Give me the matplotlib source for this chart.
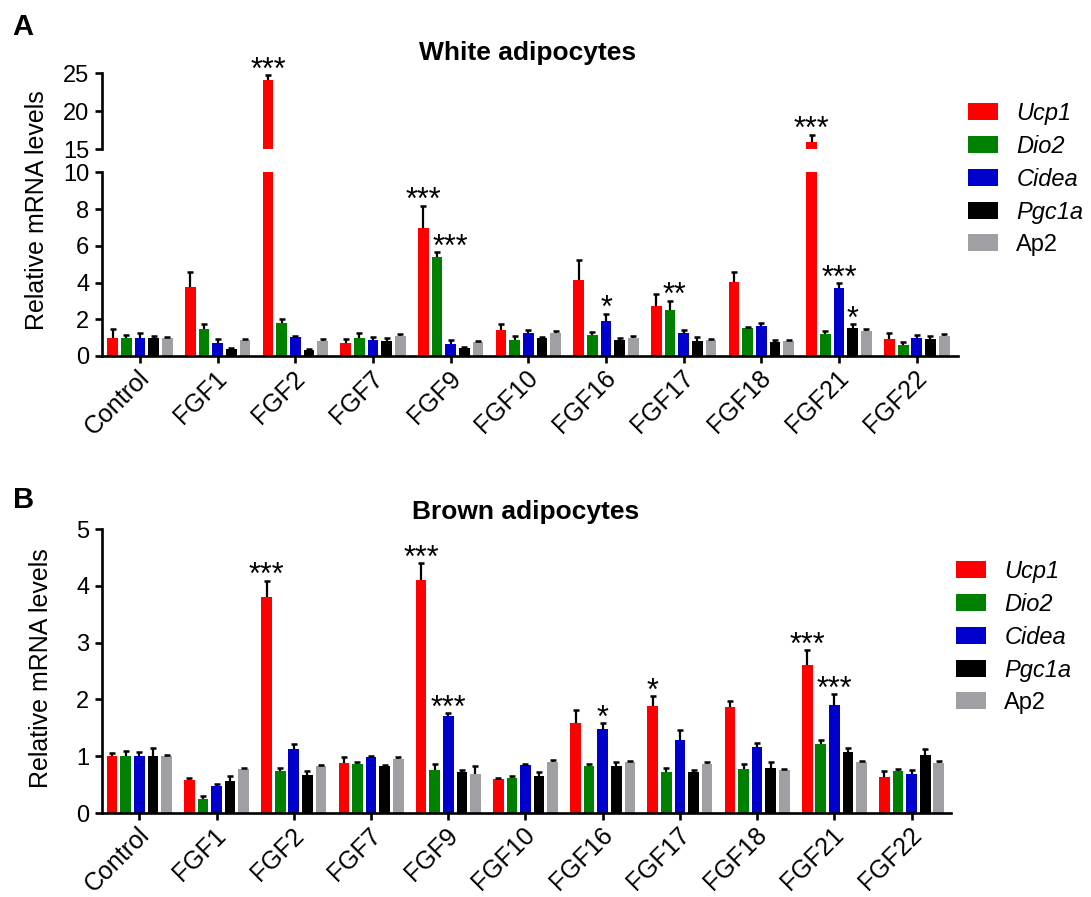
import numpy as np
import matplotlib
matplotlib.use('Agg')
import matplotlib.pyplot as plt
import matplotlib.transforms as mtransforms
from matplotlib.patches import Patch

plt.rcParams['font.family'] = ['Liberation Sans', 'DejaVu Sans']

groups = ['Control', 'FGF1', 'FGF2', 'FGF7', 'FGF9', 'FGF10',
          'FGF16', 'FGF17', 'FGF18', 'FGF21', 'FGF22']
genes = ['Ucp1', 'Dio2', 'Cidea', 'Pgc1a', 'Ap2']
colors = ['#ff0000', '#008000', '#0000cc', '#000000', '#a0a0a4']

# White adipocytes: mean and upper error (SEM)
white_ucp1 = [1.0, 3.77, 24.1, 0.69, 6.95, 1.42, 4.14, 2.74, 4.05, 16.0, 0.94]
white_ucp1_err = [0.45, 0.78, 0.7, 0.21, 1.23, 0.32, 1.09, 0.62, 0.5, 0.95, 0.33]
white_dio2 = [1.0, 1.47, 1.81, 0.98, 5.39, 0.87, 1.13, 2.49, 1.51, 1.18, 0.6]
white_dio2_err = [0.16, 0.25, 0.19, 0.29, 0.25, 0.23, 0.18, 0.52, 0.07, 0.16, 0.14]
white_cidea = [1.0, 0.69, 1.03, 0.85, 0.67, 1.27, 1.91, 1.23, 1.65, 3.72, 0.96]
white_cidea_err = [0.25, 0.21, 0.07, 0.17, 0.2, 0.15, 0.38, 0.2, 0.15, 0.25, 0.2]
white_pgc1a = [1.0, 0.38, 0.33, 0.8, 0.42, 0.96, 0.89, 0.8, 0.74, 1.51, 0.93]
white_pgc1a_err = [0.11, 0.07, 0.05, 0.16, 0.07, 0.06, 0.07, 0.22, 0.13, 0.21, 0.17]
white_ap2 = [1.0, 0.85, 0.83, 1.09, 0.76, 1.27, 1.0, 0.89, 0.8, 1.38, 1.1]
white_ap2_err = [0.05, 0.08, 0.07, 0.11, 0.06, 0.09, 0.1, 0.05, 0.05, 0.09, 0.1]

# Brown adipocytes
brown_ucp1 = [1.0, 0.58, 3.8, 0.88, 4.11, 0.59, 1.59, 1.89, 1.86, 2.6, 0.64]
brown_ucp1_err = [0.06, 0.04, 0.29, 0.11, 0.29, 0.03, 0.23, 0.17, 0.12, 0.27, 0.1]
brown_dio2 = [1.0, 0.25, 0.74, 0.87, 0.75, 0.62, 0.83, 0.73, 0.78, 1.21, 0.74]
brown_dio2_err = [0.09, 0.05, 0.06, 0.02, 0.11, 0.04, 0.04, 0.06, 0.08, 0.08, 0.04]
brown_cidea = [1.0, 0.48, 1.12, 0.98, 1.71, 0.84, 1.48, 1.28, 1.16, 1.91, 0.68]
brown_cidea_err = [0.08, 0.03, 0.1, 0.03, 0.05, 0.02, 0.1, 0.19, 0.07, 0.18, 0.07]
brown_pgc1a = [1.0, 0.56, 0.67, 0.82, 0.72, 0.66, 0.83, 0.73, 0.8, 1.07, 1.02]
brown_pgc1a_err = [0.14, 0.09, 0.07, 0.02, 0.04, 0.06, 0.07, 0.03, 0.1, 0.08, 0.11]
brown_ap2 = [1.0, 0.77, 0.82, 0.95, 0.69, 0.9, 0.89, 0.87, 0.75, 0.89, 0.88]
brown_ap2_err = [0.02, 0.02, 0.03, 0.04, 0.14, 0.03, 0.03, 0.03, 0.03, 0.02, 0.03]

# significance marks: (group index, gene index, label, x shift in bar widths)
white_sig = [(2, 0, '***', 0), (4, 0, '***', 0), (4, 1, '***', 1), (6, 2, '*', 0),
             (7, 1, '**', 0.3), (9, 0, '***', 0), (9, 2, '***', 0), (9, 3, '*', 0)]
brown_sig = [(2, 0, '***', 0), (4, 0, '***', 0), (4, 2, '***', 0), (6, 2, '*', 0),
             (7, 0, '*', 0), (9, 0, '***', 0), (9, 2, '***', 0)]

white = [(white_ucp1, white_ucp1_err), (white_dio2, white_dio2_err),
         (white_cidea, white_cidea_err), (white_pgc1a, white_pgc1a_err),
         (white_ap2, white_ap2_err)]
brown = [(brown_ucp1, brown_ucp1_err), (brown_dio2, brown_dio2_err),
         (brown_cidea, brown_cidea_err), (brown_pgc1a, brown_pgc1a_err),
         (brown_ap2, brown_ap2_err)]

W, H = 1091, 897
PITCH = 0.176
BAR_W = 0.138
LW = 1.9

fig = plt.figure(figsize=(W / 100, H / 100), dpi=100)


def ax_at(left, top, right, bottom):
    return fig.add_axes([left / W, 1 - bottom / H, (right - left) / W, (bottom - top) / H])


def style(ax, ysize, show_x=True):
    for s in ['top', 'right']:
        ax.spines[s].set_visible(False)
    ax.spines['left'].set_linewidth(LW)
    ax.spines['bottom'].set_linewidth(LW)
    ax.tick_params(axis='y', direction='out', length=5, width=LW, labelsize=ysize, pad=4)
    if show_x:
        ax.tick_params(axis='x', direction='out', length=5, width=LW, labelsize=18, pad=4)
    else:
        ax.spines['bottom'].set_visible(False)
        ax.tick_params(axis='x', bottom=False, labelbottom=False)


def draw_bars(ax, data):
    x = np.arange(len(groups))
    for i, (vals, errs) in enumerate(data):
        xs = x + (i - 2) * PITCH
        vals = np.array(vals)
        errs = np.array(errs)
        ax.bar(xs, vals, width=BAR_W, color=colors[i], linewidth=0, zorder=2)
        ax.vlines(xs, vals, vals + errs, color='black', lw=1.6, zorder=3)
        ax.plot(xs, vals + errs, ls='none', marker='_', ms=4.5, mew=1.8,
                color='black', zorder=3)


def stars(ax, data, sig, lo, hi):
    for g, k, lab, dx in sig:
        top = data[k][0][g] + data[k][1][g]
        if lo <= top <= hi:
            ax.annotate(lab, (g + (k - 2 + dx) * PITCH, top), xytext=(0, -2.5),
                        textcoords='offset points', ha='center', va='baseline',
                        fontsize=22, annotation_clip=False)


def xlabels(ax):
    shift = mtransforms.ScaledTranslation(0.06, -0.06, fig.dpi_scale_trans)
    for t in ax.get_xticklabels():
        t.set_rotation(45)
        t.set_ha('right')
        t.set_va('center')
        t.set_rotation_mode('anchor')
        t.set_transform(t.get_transform() + shift)


def legend(x_px, y_px):
    handles = [Patch(facecolor=c, edgecolor='none') for c in colors]
    leg = fig.legend(handles, genes, loc='upper left',
                     bbox_to_anchor=(x_px / W, 1 - y_px / H), frameon=False,
                     fontsize=17, handlelength=1.27, handleheight=0.72,
                     handletextpad=0.78, labelspacing=0.42, borderpad=0,
                     borderaxespad=0)
    for t in leg.get_texts()[:4]:
        t.set_style('italic')


# ---- panel A: white adipocytes (broken y axis) ----
axA = ax_at(101.8, 172.3, 958, 356)
axA_top = ax_at(101.8, 73.5, 958, 149.5)
for ax in (axA, axA_top):
    draw_bars(ax, white)
    ax.set_xlim(-0.49, 10.53)
axA.set_ylim(0, 10)
axA.set_yticks([0, 2, 4, 6, 8, 10])
axA_top.set_ylim(15, 25)
axA_top.set_yticks([15, 20, 25])
style(axA, 17)
style(axA_top, 17, show_x=False)
axA.set_xticks(np.arange(len(groups)))
axA.set_xticklabels(groups)
stars(axA, white, white_sig, 0, 10)
stars(axA_top, white, white_sig, 15, 25)

# ---- panel B: brown adipocytes ----
axB = ax_at(101.8, 529, 951, 813)
draw_bars(axB, brown)
axB.set_xlim(-0.486, 10.51)
axB.set_ylim(0, 5)
axB.set_yticks([0, 1, 2, 3, 4, 5])
style(axB, 17)
axB.set_xticks(np.arange(len(groups)))
axB.set_xticklabels(groups)
stars(axB, brown, brown_sig, 0, 5)

xlabels(axA)
xlabels(axB)

# titles, panel letters, axis labels
fig.text(528 / W, 1 - 60 / H, 'White adipocytes', ha='center', va='baseline',
         fontsize=19, fontweight='bold')
fig.text(526 / W, 1 - 519 / H, 'Brown adipocytes', ha='center', va='baseline',
         fontsize=19, fontweight='bold')
fig.text(12 / W, 1 - 35 / H, 'A', fontsize=21, fontweight='bold', va='baseline')
fig.text(13 / W, 1 - 508 / H, 'B', fontsize=21, fontweight='bold', va='baseline')
fig.text(37 / W, 1 - 210.5 / H, 'Relative mRNA levels', rotation=90,
         ha='center', va='center', fontsize=18)
fig.text(41 / W, 1 - 668 / H, 'Relative mRNA levels', rotation=90,
         ha='center', va='center', fontsize=18)

legend(968, 102)
legend(956, 560)

fig.savefig('out.png', dpi=100)
